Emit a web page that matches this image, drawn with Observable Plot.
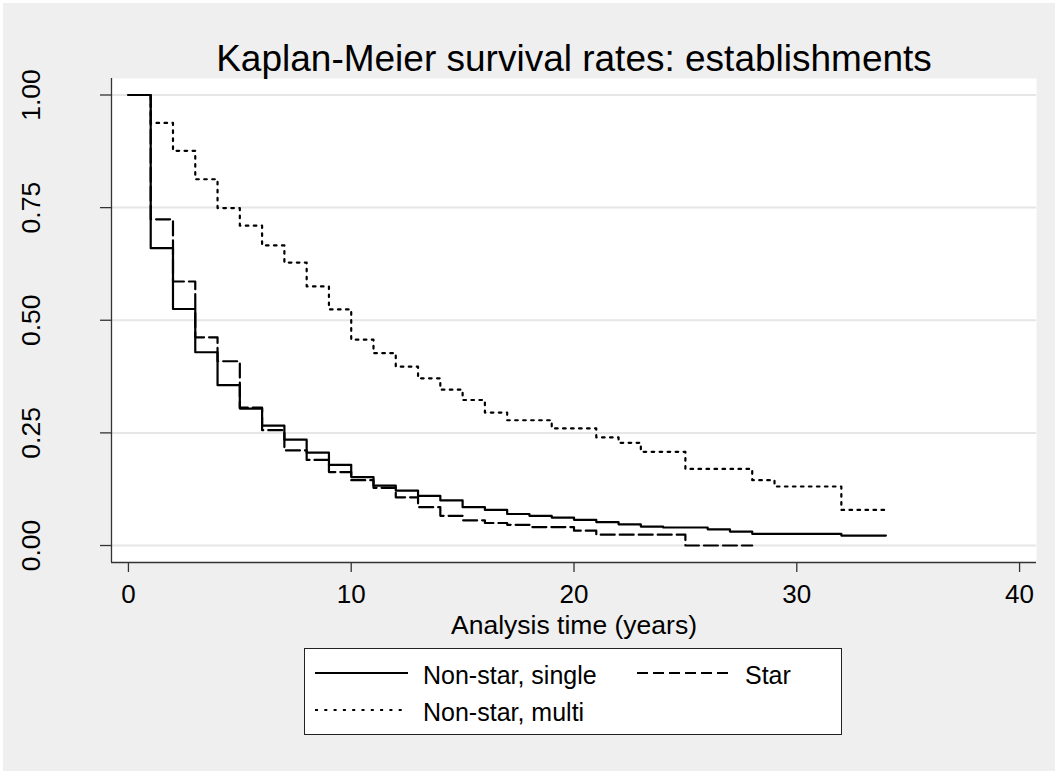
<!DOCTYPE html>
<html>
<head>
<meta charset="utf-8">
<script src="https://cdn.jsdelivr.net/npm/d3@7"></script>
<script src="https://cdn.jsdelivr.net/npm/@observablehq/plot@0.6"></script>
<style>
  html, body { margin: 0; padding: 0; background: #efefef; }
  #wrap { position: relative; width: 1055px; height: 771px; background: #efefef; box-shadow: inset 3px 3px 0 #fff; overflow: hidden; font-family: "Liberation Sans", Arial, sans-serif; }
  #chart { position: absolute; left: 0; top: 0; }
  #legend { position: absolute; left: 304px; top: 648px; width: 538px; height: 87px; box-sizing: border-box; background: #fff; border: 1.5px solid #222; }
</style>
</head>
<body>
<div id="wrap">
  <div id="chart"></div>
  <div id="legend"></div>
</div>
<script>
// ---- Data ----
const titleText = "Kaplan-Meier survival rates: establishments";
const xLabel = "Analysis time (years)";
const xTicks = [0, 10, 20, 30, 40];
const yTicks = [0, 0.25, 0.5, 0.75, 1];

const seriesNames = ["Non-star, single", "Star", "Non-star, multi"];

const singleTime = [0,1,2,3,4,5,6,7,8,9,10,11,12,13,14,15,16,17,18,19,20,21,22,23,24,26,27,28,32,34];
const singleSurv = [1.00,0.660,0.525,0.429,0.356,0.304,0.266,0.235,0.206,0.179,0.152,0.133,0.122,0.110,0.100,0.085,0.079,0.070,0.066,0.062,0.057,0.052,0.047,0.042,0.040,0.036,0.031,0.026,0.022,0.022];

const starTime = [0,1,2,3,4,5,6,7,8,9,10,11,12,13,14,15,16,17,18,20,21,25,28];
const starSurv = [1.00,0.724,0.586,0.462,0.409,0.306,0.256,0.211,0.190,0.163,0.145,0.128,0.107,0.085,0.066,0.056,0.050,0.046,0.041,0.033,0.024,0.000,0.000];

const multiTime = [0,1,2,3,4,5,6,7,8,9,10,11,12,13,14,15,16,17,19,21,22,23,25,28,29,32,34];
const multiSurv = [1.00,0.938,0.876,0.813,0.749,0.710,0.666,0.628,0.575,0.524,0.457,0.427,0.397,0.371,0.346,0.323,0.295,0.278,0.260,0.240,0.228,0.208,0.170,0.145,0.131,0.079,0.079];

// ---- Build tables ----
const toRows = (ts, ss, name) => ts.map((t, i) => ({t, s: ss[i], series: name}));
const single = toRows(singleTime, singleSurv, seriesNames[0]);
const star = toRows(starTime, starSurv, seriesNames[1]);
const multi = toRows(multiTime, multiSurv, seriesNames[2]);

const font = '"Liberation Sans", Arial, sans-serif';
const xDomain = [-0.76, 40.76];
const yDomain = [-0.0377, 1.0366];
const W = 1055, H = 645;

const chart = Plot.plot({
  width: W,
  height: H,
  marginTop: 78,
  marginLeft: 111,
  marginRight: 19,
  marginBottom: H - 562,
  style: { background: "transparent", fontFamily: font, color: "#000", overflow: "visible" },
  x: { domain: xDomain, axis: null },
  y: { domain: yDomain, axis: null },
  marks: [
    Plot.frame({ fill: "#fff", stroke: null }),
    Plot.ruleY(yTicks, { stroke: "#e6e6e6", strokeWidth: 2 }),
    Plot.line(multi, { x: "t", y: "s", curve: "step-after", stroke: "#000", strokeWidth: 2.2, strokeDasharray: "2.6,5.4" }),
    Plot.line(star, { x: "t", y: "s", curve: "step-after", stroke: "#000", strokeWidth: 2.2, strokeDasharray: "14,5" }),
    Plot.line(single, { x: "t", y: "s", curve: "step-after", stroke: "#000", strokeWidth: 2.2 }),
    Plot.ruleX([xDomain[0]], { stroke: "#333", strokeWidth: 1.3 }),
    Plot.ruleY([yDomain[0]], { stroke: "#333", strokeWidth: 1.3 }),
    Plot.axisX({ ticks: xTicks, tickSize: 10, tickPadding: 12, fontSize: 26, label: null, stroke: "#333", strokeWidth: 1.3, fill: "#000" }),
    Plot.axisY({ ticks: yTicks, tickSize: 11, tickFormat: () => "", label: null, stroke: "#333", strokeWidth: 1.3 }),
    Plot.text(yTicks, { y: d => d, frameAnchor: "left", dx: -72, rotate: -90, text: d => d3.format(".2f")(d), textAnchor: "middle", lineAnchor: "bottom", fontSize: 26.5, fill: "#000" }),
    Plot.text([xLabel], { frameAnchor: "bottom", dy: 71, lineAnchor: "bottom", fontSize: 26.5, fill: "#000" }),
    Plot.text([titleText], { frameAnchor: "top", dy: -8, lineAnchor: "bottom", fontSize: 37, fill: "#000" })
  ]
});
document.getElementById("chart").appendChild(chart);

// ---- Legend ----
const lg = d3.select("#legend").append("svg").attr("width", 535).attr("height", 84)
  .style("position", "absolute").style("left", "0").style("top", "0");
const items = [
  { name: seriesNames[0], dash: null, x: 10, y: 24 },
  { name: seriesNames[1], dash: "11,5", x: 332, y: 24 },
  { name: seriesNames[2], dash: "3,6.3", x: 10, y: 61 }
];
items.forEach(it => {
  lg.append("line").attr("x1", it.x).attr("x2", it.x + 93).attr("y1", it.y).attr("y2", it.y)
    .attr("stroke", "#000").attr("stroke-width", 2.2).attr("stroke-dasharray", it.dash);
  lg.append("text").attr("x", it.x + 108).attr("y", it.y + 11)
    .attr("font-family", font).attr("font-size", 25).attr("fill", "#000").text(it.name);
});
</script>
</body>
</html>
